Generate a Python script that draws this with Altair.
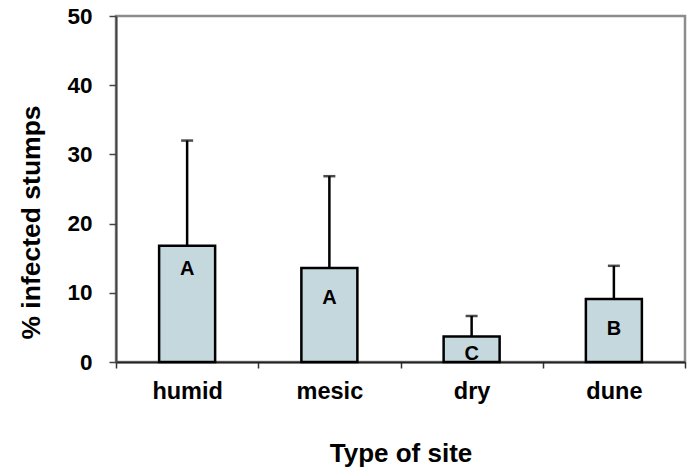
import altair as alt
import pandas as pd

# Percentage of infected stumps by site type (mean + one-sided error)
sites = ["humid", "mesic", "dry", "dune"]
mean_pct = [16.8, 13.6, 3.7, 9.1]
err_pct = [15.2, 13.25, 2.95, 4.8]
groups = ["A", "A", "C", "B"]
group_label_y = [13.4, 9.3, 1.2, 4.7]

df = pd.DataFrame({
    "site": sites,
    "mean": mean_pct,
    "err": err_pct,
    "group": groups,
    "label_y": group_label_y,
})

FONT = "Liberation Sans"
BAR_FILL = "#C5D8DE"

x_enc = alt.X(
    "site:N",
    sort=sites,
    scale=alt.Scale(paddingInner=0, paddingOuter=0),
    axis=alt.Axis(
        title="Type of site",
        labelAngle=0,
        labelFont=FONT,
        labelFontWeight="bold",
        labelFontSize=23.5,
        labelColor="black",
        labelPadding=11,
        tickBand="extent",
        tickSize=6,
        tickColor="#333333",
        tickWidth=1.5,
        domainColor="#222222",
        domainWidth=2,
        titleFont=FONT,
        titleFontWeight="bold",
        titleFontSize=26,
        titleColor="black",
        titlePadding=38,
    ),
)

y_scale = alt.Scale(domain=[0, 50], nice=False)
y_axis = alt.Axis(
    title="% infected stumps",
    values=[0, 10, 20, 30, 40, 50],
    grid=False,
    labelFont=FONT,
    labelFontWeight="bold",
    labelFontSize=22.5,
    labelColor="black",
    labelPadding=17,
    tickSize=7,
    tickColor="#444444",
    tickWidth=1.5,
    domainColor="#444444",
    domainWidth=2,
    titleFont=FONT,
    titleFontWeight="bold",
    titleFontSize=26.5,
    titleColor="black",
    titleAngle=270,
    titleAlign="center",
    titleBaseline="middle",
    titleX=-85,
    titleY=206,
)

base = alt.Chart(df).encode(x=x_enc)

bars = base.mark_bar(
    size=56, fill=BAR_FILL, stroke="black", strokeWidth=2.5
).encode(y=alt.Y("mean:Q", scale=y_scale, axis=y_axis))

whisker = base.transform_calculate(upper="datum.mean + datum.err").mark_rule(
    color="black", strokeWidth=2.5
).encode(y="mean:Q", y2="upper:Q")

caps = base.transform_calculate(upper="datum.mean + datum.err").mark_tick(
    color="black", size=12, thickness=2.5, orient="horizontal"
).encode(y="upper:Q")

letters = base.mark_text(
    font=FONT, fontWeight="bold", fontSize=20, color="black", baseline="middle"
).encode(y="label_y:Q", text="group:N")

chart = (
    alt.layer(whisker, bars, caps, letters)
    .properties(
        width=569,
        height=346,
        autosize=alt.AutoSizeParams(type="none"),
        padding={"left": 116, "top": 16, "right": 4, "bottom": 107},
        background="white",
    )
    .configure_view(stroke="#8C8C8C", strokeWidth=2.5)
)

chart.save("out.html", embed_options={"renderer": "svg", "actions": False})
